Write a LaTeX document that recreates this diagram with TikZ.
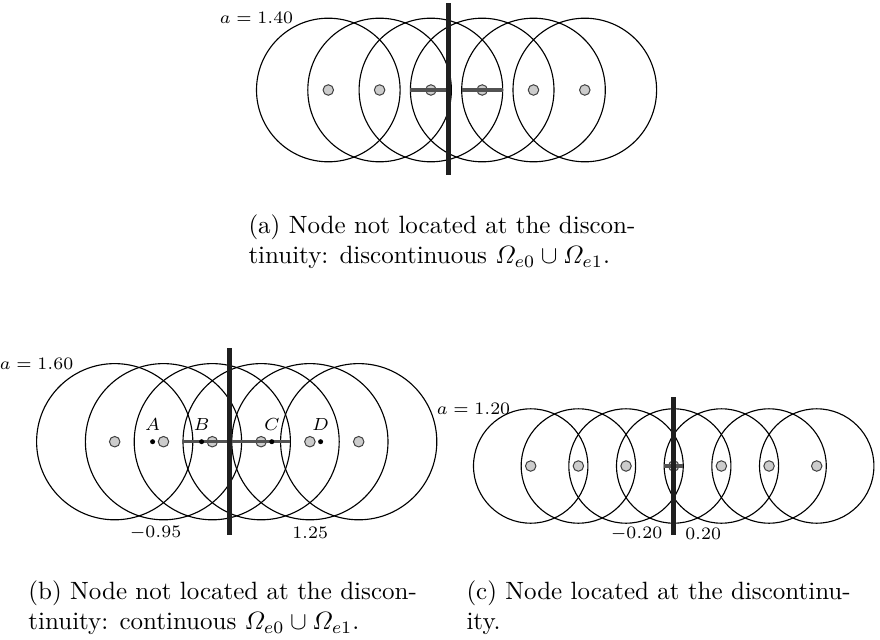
\documentclass[tikz,border=0pt]{standalone}
\usepackage{amsmath}
\begin{document}
\begin{tikzpicture}[x=0.4pt,y=-0.4pt,
  ring/.style={draw=black, line width=0.45pt},
  gnode/.style={circle, draw=black!75, fill=black!20, line width=0.4pt, inner sep=0pt, minimum size=4.2pt},
  bdot/.style={circle, fill=black, inner sep=0pt, minimum size=2pt},
  wall/.style={line width=1.8pt, draw=black!88},
  bar/.style={line width=1.4pt, draw=black!68},
  lab/.style={font=\scriptsize, inner sep=0.5pt},
  captext/.style={anchor=base west, inner sep=0pt}]
\useasboundingbox (0,0) rectangle (880,640);
% ---------------- (a)
\foreach \i in {0,...,5} \coordinate (ca\i) at ({328.3+51.3*\i},90);
\foreach \i in {0,...,5} \draw[ring] (ca\i) circle [radius=71.8];
\foreach \i in {0,...,5} \node[gnode] (a\i) at (ca\i) {};
\coordinate (abl1) at (410.4,90); \coordinate (abr1) at (451.4,90);
\coordinate (abl2) at (461.7,90); \coordinate (abr2) at (502.7,90);
\draw[bar] (abl1) -- (abr1);
\draw[bar] (abl2) -- (abr2);
\coordinate (awt) at (448.5,3); \coordinate (awb) at (448.5,175);
\draw[wall] (awt) -- (awb);
\node[lab] (la) at (256.5,18) {$a=1.40$};
\node[captext] (capa1) at (248,233.5) {(a) Node not located at the discon-};
\node[captext] (capa2) at (248,263.5) {tinuity: discontinuous $\varOmega_{e0}\cup\varOmega_{e1}$.};
% ---------------- (b)
\foreach \i in {0,...,5} \coordinate (cb\i) at ({114.7+48.8*\i},441.7);
\foreach \i in {0,...,5} \draw[ring] (cb\i) circle [radius=78.1];
\foreach \i in {0,...,5} \node[gnode] (b\i) at (cb\i) {};
\coordinate (bbl) at (182.9,441.7); \coordinate (bbr) at (290.3,441.7);
\draw[bar] (bbl) -- (bbr);
\node[bdot] (dA) at (152.6,441.7) {};
\node[bdot] (dB) at (201.6,441.7) {};
\node[bdot] (dC) at (271.8,441.7) {};
\node[bdot] (dD) at (320.6,441.7) {};
\node[lab] (lA) at (152.6,425) {$A$};
\node[lab] (lB) at (201.6,425) {$B$};
\node[lab] (lC) at (271.8,425) {$C$};
\node[lab] (lD) at (320.6,425) {$D$};
\coordinate (bwt) at (229.3,348); \coordinate (bwb) at (229.3,535);
\draw[wall] (bwt) -- (bwb);
\node[lab, anchor=east] (bn1) at (183,533) {$-0.95$};
\node[lab, anchor=west] (bn2) at (290.5,533) {$1.25$};
\node[lab] (lb) at (36.6,363.6) {$a=1.60$};
\node[captext] (capb1) at (28,599.5) {(b) Node not located at the discon-};
\node[captext] (capb2) at (28,629.5) {tinuity: continuous $\varOmega_{e0}\cup\varOmega_{e1}$.};
% ---------------- (c)
\foreach \i in {0,...,6} \coordinate (cc\i) at ({530.7+47.67*\i},466);
\foreach \i in {0,...,6} \draw[ring] (cc\i) circle [radius=57.2];
\foreach \i in {0,...,6} \node[gnode] (c\i) at (cc\i) {};
\coordinate (cbl) at (664.2,466); \coordinate (cbr) at (683.2,466);
\draw[bar] (cbl) -- (cbr);
\coordinate (cwt) at (673.7,397); \coordinate (cwb) at (673.7,535);
\draw[wall] (cwt) -- (cwb);
\node[lab, anchor=east] (cn1) at (664,534) {$-0.20$};
\node[lab, anchor=west] (cn2) at (683.5,534) {$0.20$};
\node[lab] (lc) at (473.5,408.8) {$a=1.20$};
\node[captext] (capc1) at (466,599.5) {(c) Node located at the discontinu-};
\node[captext] (capc2) at (466,629.5) {ity.};
\end{tikzpicture}
\end{document}
